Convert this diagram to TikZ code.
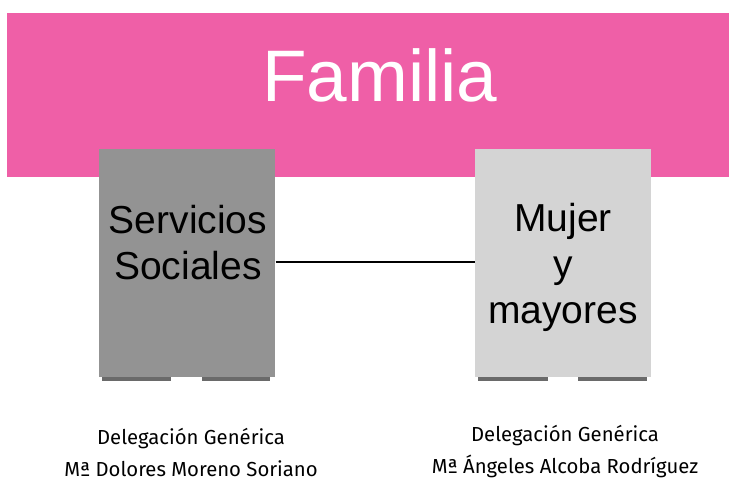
\documentclass[tikz,border=0pt]{standalone}
\usepackage{fontspec}
\setmainfont{Liberation Sans}
\newfontfamily\namefont{Fira Sans}
\usetikzlibrary{positioning}

\definecolor{famPink}{HTML}{EF5FA7}
\definecolor{darkBox}{HTML}{939393}
\definecolor{lightBox}{HTML}{D4D4D4}
\definecolor{shadowGray}{HTML}{6A6A6A}

\begin{document}
\begin{tikzpicture}[x=1pt,y=-1pt,semithick]
  \tikzstyle{area}=[draw=none,inner sep=0pt,anchor=north west]
  \tikzstyle{areaText}=[align=center,font=\fontsize{39}{46}\selectfont]
  \tikzstyle{nameText}=[align=center,font=\namefont\fontsize{20.3}{32}\selectfont]
  \tikzstyle{curl}=[fill=shadowGray,draw=none]
  \useasboundingbox (0,0) rectangle (729,481);

  % Band
  \node[area,fill=famPink,minimum width=722pt,minimum height=164pt] (band) at (7,13) {};
  \node[text=white,font=\fontsize{73}{80}\selectfont] (title) at (380,75) {Familia};

  % Boxes
  \node[area,fill=darkBox,minimum width=176pt,minimum height=228pt] (serv) at (99,149) {};
  \node[area,fill=lightBox,minimum width=176pt,minimum height=228pt] (mujer) at (475,149) {};
  \node[areaText] (servT) at (188,243) {Servicios\\Sociales};
  \node[areaText] (mujerT) at (563,267) {Mujer\\y\\mayores};

  % Curled shadows
  \fill[curl] (102,377) rectangle (171,381);
  \fill[curl] (202,377) rectangle (270,381);
  \fill[curl] (478,377) rectangle (548,381);
  \fill[curl] (578,377) rectangle (647,381);

  % Link
  \draw[line width=2pt] (serv.east |- 0,262) -- (mujer.west |- 0,262);

  % Names
  \node[nameText] (servN) at (191,452) {Delegación Genérica\\Mª Dolores Moreno Soriano};
  \node[nameText] (mujerN) at (565,452) {Delegación Genérica\\Mª Ángeles Alcoba Rodríguez};
\end{tikzpicture}
\end{document}
